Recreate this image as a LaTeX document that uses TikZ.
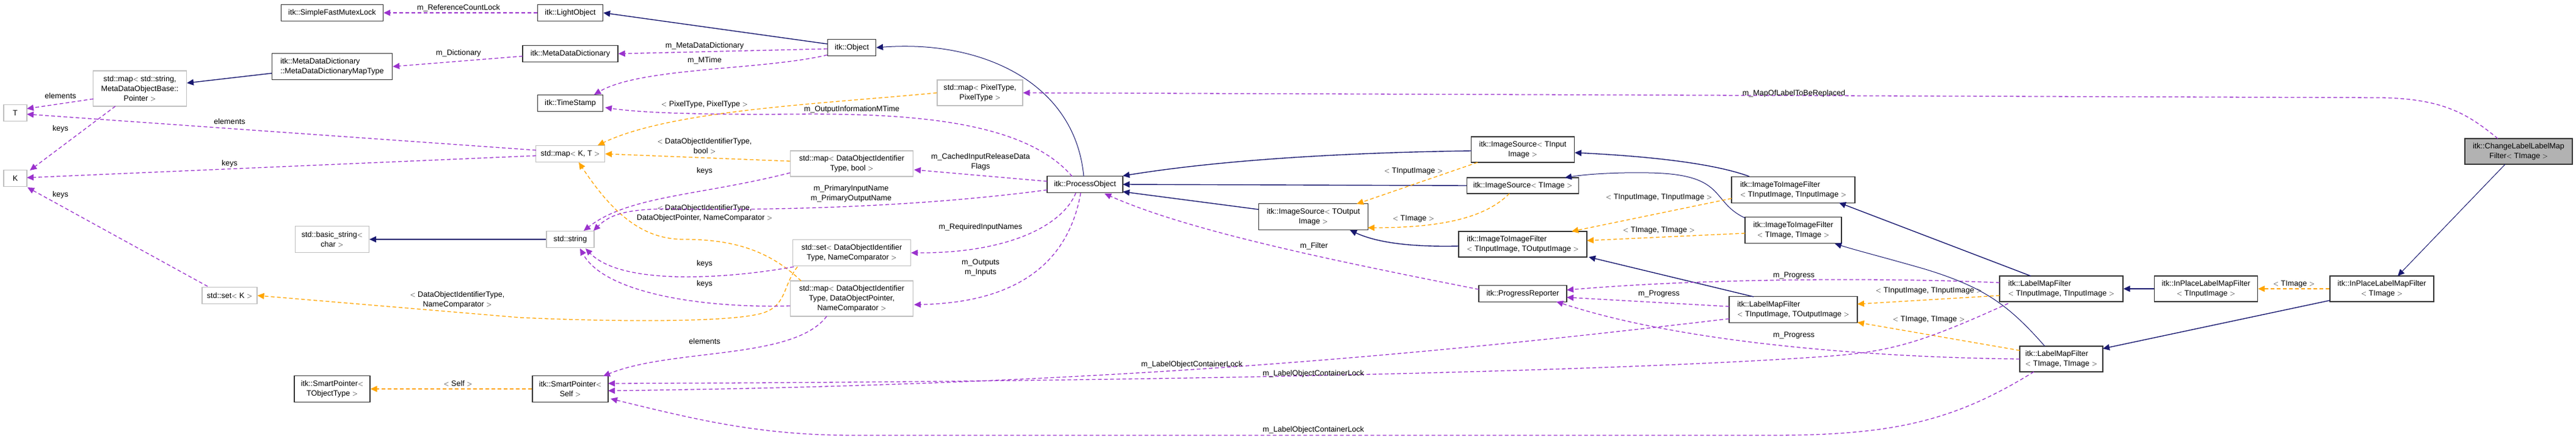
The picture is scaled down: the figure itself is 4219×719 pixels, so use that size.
\documentclass[tikz,border=0pt]{standalone}
\usepackage{fontspec}
\setmainfont{Liberation Sans}
\usetikzlibrary{arrows.meta}
\definecolor{inhc}{RGB}{25,25,112}
\definecolor{usec}{RGB}{154,50,205}
\definecolor{tplc}{RGB}{255,165,0}
\begin{document}
\begin{tikzpicture}[x=1pt,y=-1pt,
  font=\fontsize{12.6}{16}\selectfont,
  cls/.style={draw=black!80, line width=1.4pt, fill=white, align=center, inner sep=1pt},
  ext/.style={draw=black!25, line width=1.2pt, fill=white, align=center, inner sep=1pt},
  main/.style={cls, fill=black!30},
  inh/.style={draw=inhc, line width=1.4pt, -{Triangle[length=11pt,width=10pt]}},
  use/.style={draw=usec, line width=1.3pt, dash pattern=on 6pt off 4pt, -{Triangle[length=11pt,width=10pt]}},
  tpl/.style={draw=tplc, line width=1.3pt, dash pattern=on 6pt off 4pt, -{Triangle[length=11pt,width=10pt]}},
  lab/.style={align=center, inner sep=0pt}]
\useasboundingbox (0,0) rectangle (4219,719);
% nodes
\node[cls, minimum width=167, minimum height=27] (sfml) at (544,21) {itk::SimpleFastMutexLock};
\node[cls, minimum width=197, minimum height=43, align=left] (mdm) at (544,109) {itk::MetaDataDictionary\\::MetaDataDictionaryMapType};
\node[ext, minimum width=153, minimum height=58] (smap) at (229,145) {std::map$<$ std::string,\\ MetaDataObjectBase::\\Pointer $>$};
\node[ext, minimum width=38, minimum height=27] (T) at (25,185) {T};
\node[ext, minimum width=38, minimum height=27] (K) at (25,292) {K};
\node[ext, minimum width=121, minimum height=43] (bstr) at (544,392) {std::basic\_string$<$\\char $>$};
\node[ext, minimum width=90, minimum height=27] (setK) at (376,484) {std::set$<$ K $>$};
\node[cls, minimum width=124, minimum height=43] (spT) at (544,637) {itk::SmartPointer$<$\\TObjectType $>$};
\node[cls, minimum width=107, minimum height=27] (lo) at (934,21) {itk::LightObject};
\node[cls, minimum width=156, minimum height=27] (mdd) at (934,88) {itk::MetaDataDictionary};
\node[cls, minimum width=79, minimum height=27] (obj) at (1395,78) {itk::Object};
\node[cls, minimum width=107, minimum height=27] (ts) at (934,169) {itk::TimeStamp};
\node[ext, minimum width=140, minimum height=42] (mpix) at (1605,152) {std::map$<$ PixelType,\\PixelType $>$};
\node[ext, minimum width=113, minimum height=27] (mkt) at (934,252) {std::map$<$ K, T $>$};
\node[ext, minimum width=201, minimum height=42] (mdb) at (1395,268) {std::map$<$ DataObjectIdentifier\\Type, bool $>$};
\node[cls, minimum width=124, minimum height=27] (po) at (1777,302) {itk::ProcessObject};
\node[ext, minimum width=78, minimum height=27] (str) at (934,392) {std::string};
\node[ext, minimum width=193, minimum height=43] (snc) at (1395,414) {std::set$<$ DataObjectIdentifier\\Type, NameComparator $>$};
\node[ext, minimum width=201, minimum height=58] (mdop) at (1395,489) {std::map$<$ DataObjectIdentifier\\Type, DataObjectPointer,\\ NameComparator $>$};
\node[cls, minimum width=124, minimum height=43] (sps) at (934,637) {itk::SmartPointer$<$\\Self $>$};
\node[cls, minimum width=169, minimum height=42] (isin) at (2494,245) {itk::ImageSource$<$ TInput\\Image $>$};
\node[cls, minimum width=183, minimum height=26] (isimg) at (2494,304) {itk::ImageSource$<$ TImage $>$};
\node[cls, minimum width=179, minimum height=43] (isout) at (2151,355) {itk::ImageSource$<$ TOutput\\Image $>$};
\node[cls, minimum width=210, minimum height=42, align=left] (iio) at (2494,400) {itk::ImageToImageFilter\\$<$ TInputImage, TOutputImage $>$};
\node[cls, minimum width=144, minimum height=27] (pr) at (2494,481) {itk::ProgressReporter};
\node[cls, minimum width=202, minimum height=43, align=left] (iii) at (2937,311) {itk::ImageToImageFilter\\$<$ TInputImage, TInputImage $>$};
\node[cls, minimum width=158, minimum height=43] (iimg) at (2937,377) {itk::ImageToImageFilter\\$<$ TImage, TImage $>$};
\node[cls, minimum width=210, minimum height=43, align=left] (lio) at (2937,507) {itk::LabelMapFilter\\$<$ TInputImage, TOutputImage $>$};
\node[cls, minimum width=202, minimum height=42, align=left] (lii) at (3376,473) {itk::LabelMapFilter\\$<$ TInputImage, TInputImage $>$};
\node[cls, minimum width=136, minimum height=42, align=left] (limg) at (3376,588) {itk::LabelMapFilter\\$<$ TImage, TImage $>$};
\node[cls, minimum width=169, minimum height=42] (ipin) at (3613,473) {itk::InPlaceLabelMapFilter\\$<$ TInputImage $>$};
\node[cls, minimum width=170, minimum height=42] (ipimg) at (3901,473) {itk::InPlaceLabelMapFilter\\$<$ TImage $>$};
\node[main, minimum width=176, minimum height=42] (chg) at (4125,248) {itk::ChangeLabelLabelMap\\Filter$<$ TImage $>$};
% connector end coordinates
\begin{scope}[on background layer/.style={}]
\end{scope}
% edges
\draw[use] (lo.west) -- (sfml.east);
\node[lab] (l1) at (751,13) {m\_ReferenceCountLock};
\draw[inh] (1355,72) -- (lo.east);
\draw[use] (1355,80) -- (mdd.east);
\node[lab] (l2) at (1154,75) {m\_MetaDataDictionary};
\draw[use] (1355,90) .. controls (1250,115) and (1050,110) .. (973,155);
\node[lab] (l3) at (1154,99) {m\_MTime};
\draw[use] (856,92) -- (mdm.east);
\node[lab] (l4) at (751,87) {m\_Dictionary};
\draw[inh] (445,120) -- (306,136);
\draw[use] (153,162) -- (44,178);
\node[lab] at (99,157) {elements};
\draw[use] (189,174) -- (49,279);
\node[lab] at (99,211) {keys};
\draw[use] (878,246) -- (44,187);
\node[lab] at (376,199) {elements};
\draw[use] (878,255) -- (44,291);
\node[lab] at (376,268) {keys};
\draw[use] (340,469) -- (45,307);
\node[lab] at (99,319) {keys};
\draw[tpl] (mpix.west) .. controls (1350,170) and (1100,180) .. (979,238);
\node[lab] at (1154,171) {$<$ PixelType, PixelType $>$};
\draw[tpl] (1294,264) -- (mkt.east);
\node[lab] at (1154,239) {$<$ DataObjectIdentifierType,\\bool $>$};
\draw[use] (1294,283) .. controls (1150,320) and (1030,320) .. (956,378);
\node[lab] at (1154,280) {keys};
\draw[tpl] (1312,460) .. controls (1260,410) and (1200,392) .. (1120,392) .. controls (1060,392) and (1010,360) .. (948,266);
\node[lab] at (1154,349) {$<$ DataObjectIdentifierType,\\DataObjectPointer, NameComparator $>$};
\draw[tpl] (1306,437) .. controls (1280,470) and (1290,505) .. (1240,515) .. controls (1180,528) and (1000,527) .. (850,520) -- (setK.east);
\node[lab] at (749,491) {$<$ DataObjectIdentifierType,\\NameComparator $>$};
\draw[use] (1300,437) .. controls (1200,455) and (1020,470) .. (959,407);
\node[lab] at (1154,432) {keys};
\draw[use] (1294,501) .. controls (1150,505) and (990,480) .. (950,407);
\node[lab] at (1154,465) {keys};
\draw[use] (1354,518) .. controls (1300,590) and (1100,570) .. (988,616);
\node[lab] at (1154,559) {elements};
\draw[inh] (str.west) -- (bstr.east);
\draw[tpl] (sps.west) -- (spT.east);
\node[lab] at (750,628) {$<$ Self $>$};
\draw[inh, line width=1pt] (1775,289) .. controls (1760,130) and (1600,65) .. (obj.east);
\draw[use] (1756,289) .. controls (1680,200) and (1500,185) .. (1300,187) .. controls (1150,188) and (1050,185) .. (991,176);
\node[lab] at (1395,179) {m\_OutputInformationMTime};
\draw[use] (1715,297) -- (1497,278);
\node[lab] at (1606,265) {m\_CachedInputReleaseData\\Flags};
\draw[use] (1715,311) .. controls (1500,340) and (1250,345) .. (1100,342) .. controls (1030,342) and (1000,350) .. (972,378);
\node[lab] at (1394,317) {m\_PrimaryInputName\\m\_PrimaryOutputName};
\draw[use] (1762,316) .. controls (1740,370) and (1650,415) .. (snc.east);
\node[lab] at (1606,372) {m\_RequiredInputNames};
\draw[use] (1770,316) .. controls (1755,400) and (1700,495) .. (1497,499);
\node[lab] at (1606,438) {m\_Outputs\\m\_Inputs};
\draw[use] (2422,474) .. controls (2200,430) and (1950,380) .. (1809,317);
\node[lab] at (2152,403) {m\_Filter};
\draw[inh] (2410,247) .. controls (2200,250) and (2000,262) .. (1839,288);
\draw[inh] (isimg.west) -- (1839,302);
\draw[inh] (2061,343) -- (1839,314);
\draw[tpl] (2420,266) -- (2222,334);
\node[lab] at (2315,280) {$<$ TInputImage $>$};
\draw[tpl] (2472,317) .. controls (2430,360) and (2350,373) .. (2240,373);
\node[lab] at (2315,358) {$<$ TImage $>$};
\draw[inh] (2389,403) .. controls (2300,405) and (2250,395) .. (2211,377);
\draw[inh] (2865,289) .. controls (2800,265) and (2680,255) .. (2579,250);
\draw[inh, line width=1pt] (2858,357) .. controls (2800,330) and (2830,285) .. (2700,283) .. controls (2650,282) and (2600,285) .. (2563,291);
\draw[tpl] (2836,325) -- (2574,379);
\node[lab] at (2717,323) {$<$ TInputImage, TInputImage $>$};
\draw[tpl] (2858,382) -- (2599,394);
\node[lab] at (2717,377) {$<$ TImage, TImage $>$};
\draw[inh] (2872,486) -- (2602,421);
\draw[use] (2832,502) -- (2566,487);
\node[lab] at (2717,481) {m\_Progress};
\draw[use] (3275,463) .. controls (3100,455) and (2800,455) .. (2566,475);
\node[lab] at (2938,451) {m\_Progress};
\draw[use] (3308,588) .. controls (3050,585) and (2750,560) .. (2549,494);
\node[lab] at (2938,549) {m\_Progress};
\draw[inh] (3326,452) -- (3012,332);
\draw[inh, line width=1pt] (3349,567) .. controls (3290,500) and (3250,470) .. (3150,440) .. controls (3080,420) and (3040,410) .. (3005,399);
\draw[tpl] (3275,484) -- (3042,498);
\node[lab] at (3159,476) {$<$ TInputImage, TInputImage $>$};
\draw[tpl] (3308,574) -- (3042,528);
\node[lab] at (3159,523) {$<$ TImage, TImage $>$};
\draw[inh] (ipin.west) -- (lii.east);
\draw[tpl] (ipimg.west) -- (ipin.east);
\node[lab] at (3757,465) {$<$ TImage $>$};
\draw[inh] (3816,492) -- (3444,571);
\draw[inh, line width=1pt] (4103,269) -- (3927,452);
\draw[use] (4091,227) .. controls (4040,185) and (4000,162) .. (3900,160) -- (mpix.east);
\node[lab] at (2938,153) {m\_MapOfLabelToBeReplaced};
\draw[use] (2832,522) .. controls (2300,585) and (1800,630) .. (996,640);
\node[lab] at (1952,597) {m\_LabelObjectContainerLock};
\draw[use] (3289,497) .. controls (3150,560) and (3100,575) .. (3000,583) .. controls (2700,605) and (2000,625) .. (996,628);
\node[lab] at (2151,612) {m\_LabelObjectContainerLock};
\draw[use] (3331,609) .. controls (3200,690) and (3100,713) .. (2900,713) -- (1400,713) .. controls (1250,713) and (1150,690) .. (1000,653);
\node[lab] at (2151,704) {m\_LabelObjectContainerLock};
\end{tikzpicture}
\end{document}
